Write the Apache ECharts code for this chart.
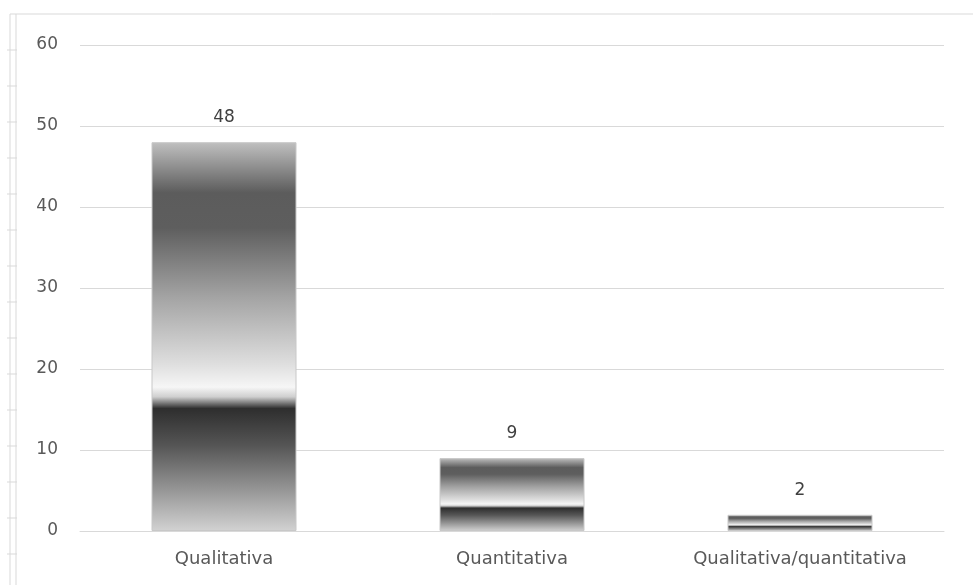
<!DOCTYPE html>
<html>
<head>
<meta charset="utf-8">
<script src="https://cdn.jsdelivr.net/npm/echarts@6/dist/echarts.min.js"></script>
<style>
html,body{margin:0;padding:0;background:#fff;}
#chart{width:973px;height:585px;}
</style>
</head>
<body>
<div id="chart"></div>
<script>
const categories = ['Qualitativa', 'Quantitativa', 'Qualitativa/quantitativa'];
const values = [48, 9, 2];
const yTicks = [0, 10, 20, 30, 40, 50, 60];

const chart = echarts.init(document.getElementById('chart'));
const FONT = 'DejaVu Sans';

const barGradient = new echarts.graphic.LinearGradient(0, 0, 0, 1, [
  { offset: 0.00, color: '#c0c0c0' },
  { offset: 0.13, color: '#5c5c5c' },
  { offset: 0.22, color: '#5e5e5e' },
  { offset: 0.40, color: '#a4a4a4' },
  { offset: 0.57, color: '#dedede' },
  { offset: 0.63, color: '#f6f6f6' },
  { offset: 0.655, color: '#cfcfcf' },
  { offset: 0.685, color: '#2e2e2e' },
  { offset: 0.78, color: '#555555' },
  { offset: 1.00, color: '#d2d2d2' }
]);

const ruler = [];
for (let i = 0; i < 16; i++) {
  ruler.push({ type: 'line', shape: { x1: 7, y1: 50 + i * 36, x2: 17, y2: 50 + i * 36 }, style: { stroke: '#d9d9d9', lineWidth: 1 }, silent: true });
}

chart.setOption({
  animation: false,
  backgroundColor: '#ffffff',
  textStyle: { fontFamily: FONT },
  grid: { left: 80, right: 29, top: 45, bottom: 54, containLabel: false },
  xAxis: {
    type: 'category',
    data: categories,
    axisLine: { show: true, lineStyle: { color: '#d9d9d9', width: 1 } },
    axisTick: { show: false },
    axisLabel: { color: '#595959', fontSize: 18, margin: 19, fontFamily: FONT }
  },
  yAxis: {
    type: 'value',
    min: yTicks[0],
    max: yTicks[yTicks.length - 1],
    interval: 10,
    axisLine: { show: false },
    axisTick: { show: false },
    axisLabel: { color: '#595959', fontSize: 17, margin: 22, fontFamily: FONT },
    splitLine: { lineStyle: { color: '#d9d9d9', width: 1 } }
  },
  series: [{
    type: 'bar',
    data: values,
    barWidth: 145,
    itemStyle: { color: barGradient, borderColor: '#c8c8c8', borderWidth: 1 },
    label: { show: true, position: 'top', distance: 16, color: '#404040', fontSize: 17, fontFamily: FONT }
  }],
  graphic: [
    { type: 'line', shape: { x1: 10, y1: 14, x2: 973, y2: 14 }, style: { stroke: '#d9d9d9', lineWidth: 1 }, silent: true },
    { type: 'line', shape: { x1: 10, y1: 14, x2: 10, y2: 585 }, style: { stroke: '#d9d9d9', lineWidth: 1 }, silent: true },
    { type: 'line', shape: { x1: 16, y1: 14, x2: 16, y2: 585 }, style: { stroke: '#d9d9d9', lineWidth: 1 }, silent: true }
  ].concat(ruler)
});
</script>
</body>
</html>
